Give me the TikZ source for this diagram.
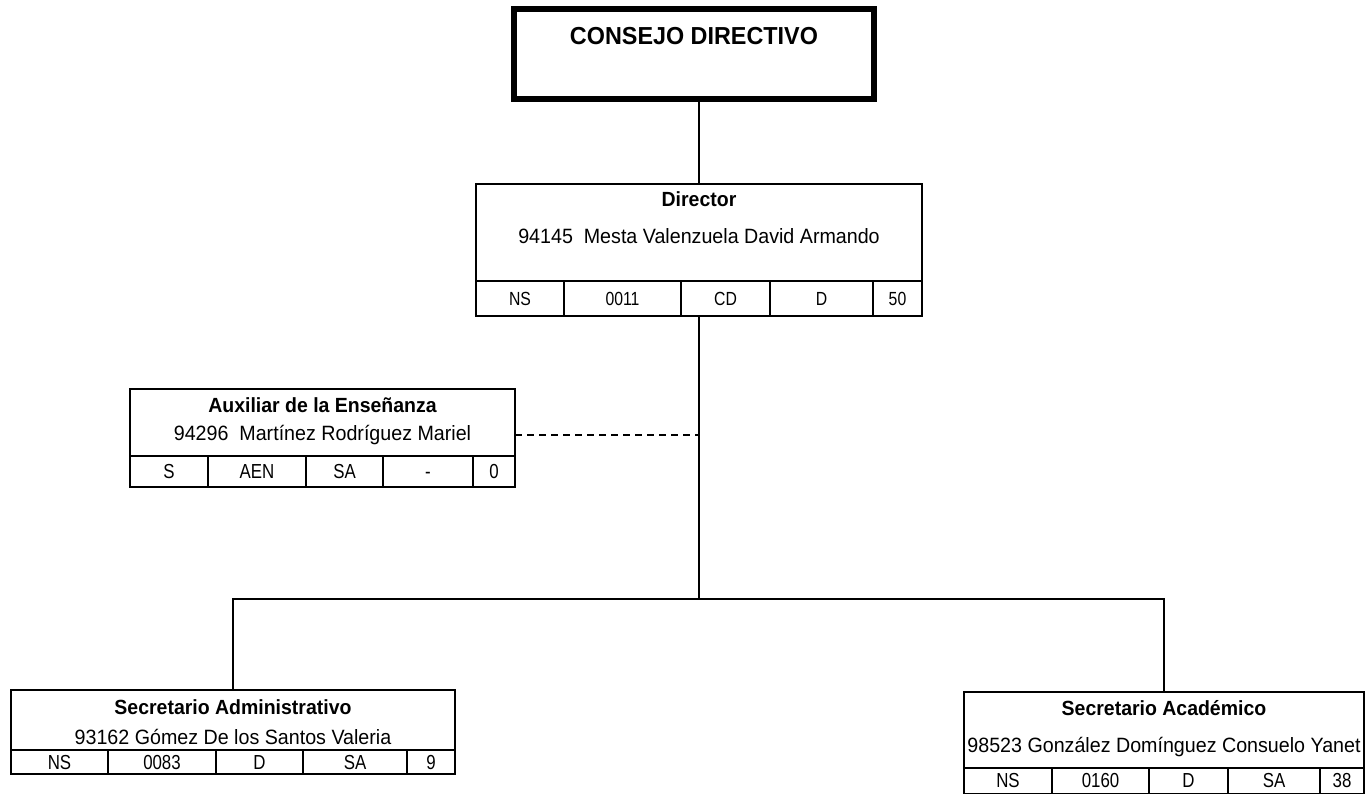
\documentclass[tikz,border=0pt]{standalone}
\usepackage{fontspec}
\setmainfont{Liberation Sans}[FakeStretch=0.95]
\newfontfamily\angosta{Liberation Sans}[FakeStretch=0.83]
\usetikzlibrary{positioning}

\begin{document}
\begin{tikzpicture}[x=1pt,y=-1pt,
  marco/.style={draw,line width=2pt,inner sep=0pt,outer sep=0pt},
  celda/.style={draw,line width=2pt,inner sep=0pt,outer sep=0pt,text height=14.5pt,text depth=0pt,font=\angosta\fontsize{20.3}{21}\selectfont},
  titulo/.style={anchor=base,font=\bfseries\fontsize{20.5}{21}\selectfont},
  nombre/.style={anchor=base,font=\fontsize{20.7}{21}\selectfont},
  linea/.style={line width=2pt}]
\useasboundingbox (0,0) rectangle (1368,794);

% consejo
\node[marco,line width=6pt,minimum width=360pt,minimum height=90pt] (consejo) at (694,54) {};
\node[anchor=base,font=\bfseries\fontsize{24.6}{25}\selectfont] (consejotxt) at (694,45) {CONSEJO DIRECTIVO};

% director
\node[marco,minimum width=446pt,minimum height=97pt] (dir) at (699,232.5) {};
\node[titulo] (dirtit) at (699,207) {Director};
\node[nombre] (dirnom) at (699,244) {94145~~Mesta Valenzuela David Armando};
\foreach \xa/\xb/\dato [count=\i] in {476/564/NS,564/681/0011,681/770/CD,770/873/D,873/922/50}
  \node[celda,minimum width={\xb-\xa},minimum height=35pt,text height=13.5pt,font=\angosta\fontsize{19}{20}\selectfont] (dir\i) at ({(\xa+\xb)/2},298.5) {\dato};

% auxiliar
\node[marco,minimum width=385pt,minimum height=67pt] (aux) at (322.5,422.5) {};
\node[titulo] (auxtit) at (322.5,412) {Auxiliar de la Enseñanza};
\node[nombre] (auxnom) at (322.5,440.5) {94296~~Martínez Rodríguez Mariel};
\foreach \xa/\xb/\dato [count=\i] in {130/208/S,208/306/AEN,306/383/SA,383/473/-,473/515/0}
  \node[celda,minimum width={\xb-\xa},minimum height=31pt] (aux\i) at ({(\xa+\xb)/2},471.5) {\dato};

% secretario administrativo
\node[marco,minimum width=444pt,minimum height=60pt] (adm) at (233,720) {};
\node[titulo] (admtit) at (233,714) {Secretario Administrativo};
\node[nombre] (admnom) at (233,744) {93162 Gómez De los Santos Valeria};
\foreach \xa/\xb/\dato [count=\i] in {11/108/NS,108/216/0083,216/303/D,303/407/SA,407/455/9}
  \node[celda,minimum width={\xb-\xa},minimum height=24pt] (adm\i) at ({(\xa+\xb)/2},762) {\dato};

% secretario academico
\node[marco,minimum width=400pt,minimum height=76pt] (acad) at (1164,729.5) {};
\node[titulo] (acadtit) at (1164,715.5) {Secretario Académico};
\node[nombre] (acadnom) at (1164,752.5) {98523 González Domínguez Consuelo Yanet};
\foreach \xa/\xb/\dato [count=\i] in {964/1052/NS,1052/1149/0160,1149/1228/D,1228/1320/SA,1320/1364/38}
  \node[celda,minimum width={\xb-\xa},minimum height=26pt] (acad\i) at ({(\xa+\xb)/2},780.5) {\dato};

% lineas
\coordinate (bus) at (699,599);
\coordinate (cruce) at (699,435);
\draw[linea] (dir.north |- consejo.south) -- (dir.north);
\draw[linea] (bus |- dir3.south) -- (bus);
\draw[linea] (adm.north) |- (bus) -| (acad.north);
\draw[linea,dash pattern=on 7pt off 5pt] (cruce -| aux.east) -- (cruce);
\end{tikzpicture}
\end{document}
